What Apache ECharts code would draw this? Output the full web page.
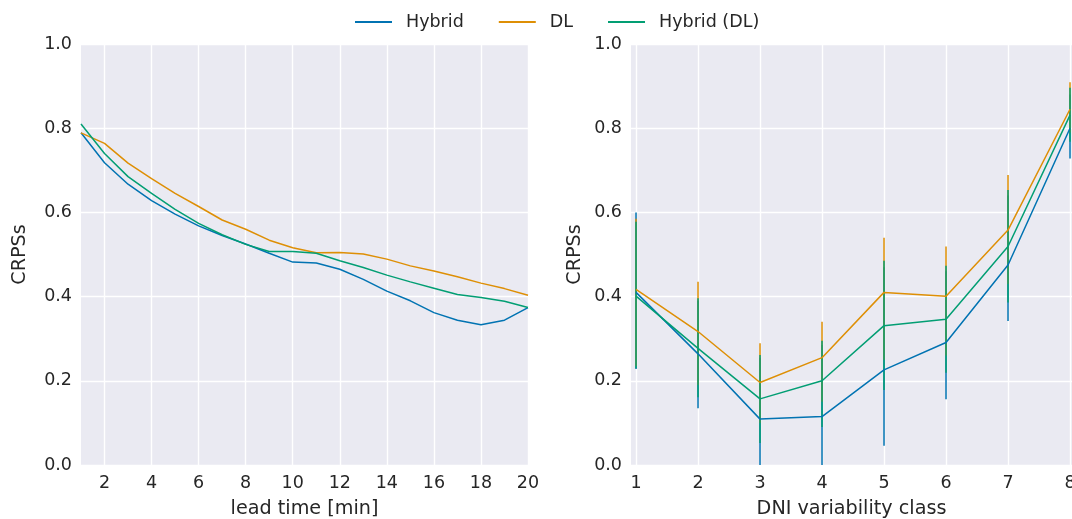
<!DOCTYPE html>
<html>
<head>
<meta charset="utf-8">
<script src="https://cdn.jsdelivr.net/npm/echarts@6/dist/echarts.min.js"></script>
<style>
html,body{margin:0;padding:0;background:#fff;overflow:hidden;width:100%;height:100%;}
#chart{width:100vw;height:100vh;}
</style>
</head>
<body>
<div id="chart"></div>
<script>
// ---- Data ----
const seriesNames = ['Hybrid', 'DL', 'Hybrid (DL)'];
const leadTimes = [1,2,3,4,5,6,7,8,9,10,11,12,13,14,15,16,17,18,19,20];
const leadTickLabels = [2,4,6,8,10,12,14,16,18,20];
const crpssHybrid   = [0.789,0.718,0.667,0.628,0.596,0.568,0.545,0.525,0.503,0.482,0.480,0.465,0.441,0.413,0.390,0.362,0.344,0.333,0.344,0.374];
const crpssDL       = [0.789,0.764,0.717,0.680,0.645,0.614,0.582,0.560,0.534,0.516,0.504,0.505,0.501,0.489,0.473,0.461,0.447,0.432,0.419,0.403];
const crpssHybridDL = [0.810,0.740,0.685,0.645,0.607,0.574,0.547,0.524,0.507,0.507,0.503,0.485,0.469,0.451,0.435,0.420,0.405,0.398,0.389,0.374];

const dniClasses = [1,2,3,4,5,6,7,8];
const classHybrid     = [0.410,0.264,0.109,0.115,0.226,0.291,0.475,0.800];
const classHybridLo   = [0.228,0.135,0.000,0.000,0.046,0.156,0.342,0.728];
const classHybridHi   = [0.600,0.390,0.255,0.285,0.470,0.460,0.640,0.880];
const classDL         = [0.417,0.317,0.196,0.255,0.410,0.401,0.558,0.845];
const classDLLo       = [0.235,0.190,0.100,0.150,0.250,0.260,0.430,0.790];
const classDLHi       = [0.585,0.435,0.289,0.340,0.540,0.519,0.689,0.909];
const classHybridDL   = [0.401,0.277,0.157,0.200,0.331,0.346,0.519,0.831];
const classHybridDLLo = [0.230,0.161,0.052,0.090,0.178,0.219,0.386,0.768];
const classHybridDLHi = [0.578,0.396,0.261,0.295,0.485,0.473,0.653,0.896];

// ---- Styles ----
const colors = ['#0173b2', '#de8f05', '#029e73'];
const textColor = '#262626';
const font = 'DejaVu Sans';
const bg = '#eaeaf2';
const tickSize = 17.5;
const titleSize = 19.2;

const chart = echarts.init(document.getElementById('chart'), null, {renderer: 'canvas', width: 1072, height: 519});

function yAxis(gridIndex, gap) {
  return {
    type: 'value', gridIndex, min: 0, max: 1, interval: 0.2,
    name: 'CRPSs', nameLocation: 'middle', nameGap: gap,
    nameTextStyle: {color: textColor, fontFamily: font, fontSize: titleSize},
    axisLine: {show: false}, axisTick: {show: false},
    axisLabel: {color: textColor, fontFamily: font, fontSize: tickSize, margin: 9,
      formatter: v => v.toFixed(1)},
    splitLine: {show: true, lineStyle: {color: '#ffffff', width: 1.4}}
  };
}

const lineSeries = (name, data, xIdx, yIdx, color, xs) => ({
  type: 'line', name, xAxisIndex: xIdx, yAxisIndex: yIdx,
  data: xs.map((x, i) => [x, data[i]]),
  showSymbol: false, symbol: 'none', lineStyle: {color, width: 1.5}, itemStyle: {color},
  emphasis: {disabled: true}, animation: false, clip: true
});

const errSeries = (name, lo, hi, color) => ({
  type: 'custom', name, xAxisIndex: 1, yAxisIndex: 1,
  data: dniClasses.map((x, i) => [x, lo[i], hi[i]]),
  encode: {x: 0, y: [1, 2]},
  clip: true,
  renderItem: (params, api) => {
    const p1 = api.coord([api.value(0), api.value(1)]);
    const p2 = api.coord([api.value(0), api.value(2)]);
    return {type: 'line', shape: {x1: p1[0], y1: p1[1], x2: p2[0], y2: p2[1]},
      style: {stroke: color, lineWidth: 1.5}};
  },
  itemStyle: {color}, animation: false, silent: true
});

const xAxisCommon = (gridIndex, name, min, max, ticks) => ({
  type: 'value', gridIndex, min, max,
  name, nameLocation: 'middle', nameGap: 35,
  nameTextStyle: {color: textColor, fontFamily: font, fontSize: titleSize},
  axisLine: {show: false},
  axisTick: {show: false, customValues: ticks},
  axisLabel: {color: textColor, fontFamily: font, fontSize: tickSize, margin: 9, customValues: ticks},
  splitLine: {show: true, lineStyle: {color: '#ffffff', width: 1.4}}
});

const option = {
  backgroundColor: '#ffffff',
  animation: false,
  color: colors,
  legend: {
    top: 8, left: 350,
    data: seriesNames.map(n => ({name: n, icon: 'rect'})),
    itemWidth: 37, itemHeight: 2, itemGap: 35,
    textStyle: {color: textColor, fontFamily: font, fontSize: tickSize, padding: [0, 0, 0, 9]}
  },
  grid: [
    {left: 81, width: 447, top: 44, height: 421, backgroundColor: bg, show: true, borderWidth: 0,
     containLabel: false, outerBoundsMode: 'none'},
    {left: 631, width: 441, top: 44, height: 421, backgroundColor: bg, show: true, borderWidth: 0,
     containLabel: false, outerBoundsMode: 'none'}
  ],
  xAxis: [
    xAxisCommon(0, 'lead time [min]', 1, 20, leadTickLabels),
    xAxisCommon(1, 'DNI variability class', 0.919, 8.032, dniClasses)
  ],
  yAxis: [yAxis(0, 51), yAxis(1, 46)],
  series: [
    lineSeries('Hybrid', crpssHybrid, 0, 0, colors[0], leadTimes),
    lineSeries('DL', crpssDL, 0, 0, colors[1], leadTimes),
    lineSeries('Hybrid (DL)', crpssHybridDL, 0, 0, colors[2], leadTimes),
    errSeries('Hybrid', classHybridLo, classHybridHi, colors[0]),
    lineSeries('Hybrid', classHybrid, 1, 1, colors[0], dniClasses),
    errSeries('DL', classDLLo, classDLHi, colors[1]),
    lineSeries('DL', classDL, 1, 1, colors[1], dniClasses),
    errSeries('Hybrid (DL)', classHybridDLLo, classHybridDLHi, colors[2]),
    lineSeries('Hybrid (DL)', classHybridDL, 1, 1, colors[2], dniClasses)
  ]
};
chart.setOption(option);
</script>
</body>
</html>
